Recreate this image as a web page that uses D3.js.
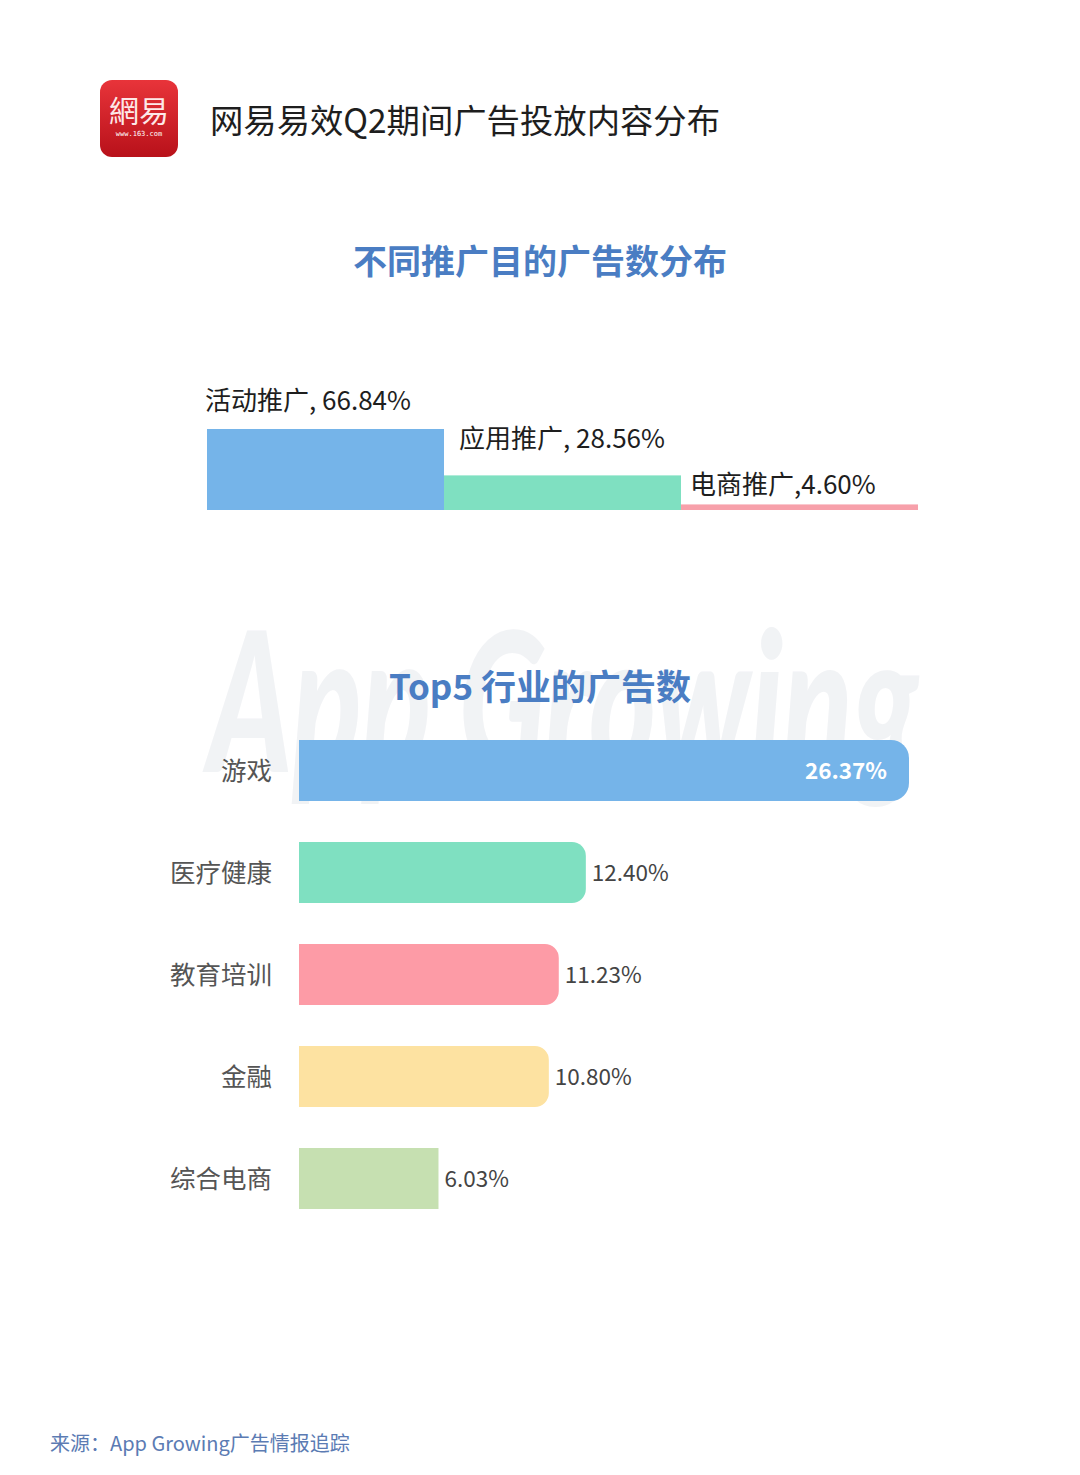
<!DOCTYPE html>
<html><head><meta charset="utf-8">
<script src="https://cdn.jsdelivr.net/npm/d3@7"></script>
<style>
html,body{margin:0;padding:0;background:#fff;}
svg{display:block;font-family:"Noto Sans CJK SC","Noto Sans",sans-serif;}
</style></head>
<body>
<svg id="c" width="1080" height="1475"></svg>
<script>
// ---- data ----
const purposeCats = ["活动推广", "应用推广", "电商推广"];
const purposeVals = [66.84, 28.56, 4.60];
const purposeLabels = ["活动推广, 66.84%", "应用推广, 28.56%", "电商推广,4.60%"];
const industryCats = ["游戏", "医疗健康", "教育培训", "金融", "综合电商"];
const industryVals = [26.37, 12.40, 11.23, 10.80, 6.03];
const industryLabels = ["26.37%", "12.40%", "11.23%", "10.80%", "6.03%"];

const purposeColors = ["#75b4e9", "#7fe0c1", "#f7a0aa"];
const industryColors = ["#75b4e9", "#7fe0c1", "#fd9ba6", "#fde2a1", "#c6e0b1"];

const svg = d3.select("#c");

// ---- watermark ----
svg.append("text").attr("x", 208).attr("y", 772)
  .attr("font-family", "Lato, 'DejaVu Sans', sans-serif").attr("font-style", "italic").attr("font-weight", 900)
  .attr("font-size", 195).attr("fill", "#eceef2").attr("opacity", 0.7)
  .attr("textLength", 710).attr("lengthAdjust", "spacingAndGlyphs")
  .text("App Growing");

// ---- header / logo ----
const defs = svg.append("defs");
const g1 = defs.append("linearGradient").attr("id", "lg").attr("x1", 0).attr("y1", 0).attr("x2", 0).attr("y2", 1);
g1.append("stop").attr("offset", "0%").attr("stop-color", "#e8343a");
g1.append("stop").attr("offset", "100%").attr("stop-color", "#b8111a");
svg.append("rect").attr("x", 100).attr("y", 80).attr("width", 78).attr("height", 77).attr("rx", 12).attr("fill", "url(#lg)");
svg.append("text").attr("x", 139).attr("y", 122).attr("text-anchor", "middle").attr("fill", "#fde8e8")
  .attr("font-size", 30).attr("font-family", "'Noto Sans CJK TC',sans-serif").text("網易");
svg.append("text").attr("x", 139).attr("y", 136).attr("text-anchor", "middle").attr("fill", "#fff")
  .attr("font-size", 7).attr("font-family", "'DejaVu Sans Mono',monospace").text("www.163.com");

svg.append("text").attr("x", 210).attr("y", 133).attr("font-size", 33.5).attr("fill", "#1e1e1e")
  .attr("textLength", 510).attr("lengthAdjust", "spacingAndGlyphs")
  .text("网易易效Q2期间广告投放内容分布");

// ---- chart 1 ----
svg.append("text").attr("x", 540).attr("y", 274).attr("text-anchor", "middle")
  .attr("font-size", 34).attr("font-weight", 700).attr("fill", "#4a7dc3").text("不同推广目的广告数分布");

const x1 = d3.scaleBand().domain(purposeCats).range([207, 918]).padding(0);
const y1 = d3.scaleLinear().domain([0, 66.84]).range([510, 429]);
const c1 = svg.append("g");
c1.selectAll("rect").data(purposeCats).join("rect")
  .attr("x", d => x1(d)).attr("width", x1.bandwidth())
  .attr("y", (d, i) => y1(purposeVals[i])).attr("height", (d, i) => 510 - y1(purposeVals[i]))
  .attr("fill", (d, i) => purposeColors[i]);
const lblOff = [{dx: -2, dy: -19}, {dx: 15, dy: -27}, {dx: 9, dy: -10}];
c1.selectAll("text").data(purposeCats).join("text")
  .attr("x", (d, i) => x1(d) + lblOff[i].dx)
  .attr("y", (d, i) => y1(purposeVals[i]) + lblOff[i].dy)
  .attr("font-size", 26).attr("fill", "#1e1e1e")
  .text((d, i) => purposeLabels[i]);

// ---- chart 2 ----
svg.append("text").attr("x", 540).attr("y", 700).attr("text-anchor", "middle")
  .attr("font-size", 35).attr("font-weight", 700).attr("fill", "#4a7dc3").text("Top5 行业的广告数");

const x2 = d3.scaleLinear().domain([0, 26.37]).range([299, 909]);
const y2 = d3.scaleBand().domain(industryCats).range([740, 1209]).paddingInner(41 / 102).paddingOuter(0);

function barPath(x0, y, w, h, r) {
  r = Math.min(r, w, h / 2);
  return `M${x0},${y}H${x0 + w - r}A${r},${r} 0 0 1 ${x0 + w},${y + r}V${y + h - r}A${r},${r} 0 0 1 ${x0 + w - r},${y + h}H${x0}Z`;
}
const radii = [18, 14, 14, 14, 0];
const c2 = svg.append("g");
c2.selectAll("path").data(industryCats).join("path")
  .attr("d", (d, i) => barPath(x2(0), y2(d), x2(industryVals[i]) - x2(0), y2.bandwidth(), radii[i]))
  .attr("fill", (d, i) => industryColors[i]);

c2.selectAll("text.cat").data(industryCats).join("text").attr("class", "cat")
  .attr("x", 272).attr("y", d => y2(d) + y2.bandwidth() / 2 + 9)
  .attr("text-anchor", "end").attr("font-size", 25.5).attr("fill", "#555").text(d => d);

c2.selectAll("text.val").data(industryCats).join("text").attr("class", "val")
  .attr("x", (d, i) => i === 0 ? x2(industryVals[i]) - 22 : x2(industryVals[i]) + 6)
  .attr("y", d => y2(d) + y2.bandwidth() / 2 + 8)
  .attr("text-anchor", (d, i) => i === 0 ? "end" : "start")
  .attr("font-size", 22.5).attr("font-weight", (d, i) => i === 0 ? 700 : 400)
  .attr("fill", (d, i) => i === 0 ? "#fff" : "#444")
  .text((d, i) => industryLabels[i]);

// ---- footer ----
svg.append("text").attr("x", 50).attr("y", 1451).attr("font-size", 20).attr("fill", "#5b7bb3")
  .text("来源：App Growing广告情报追踪");
</script>
</body></html>
